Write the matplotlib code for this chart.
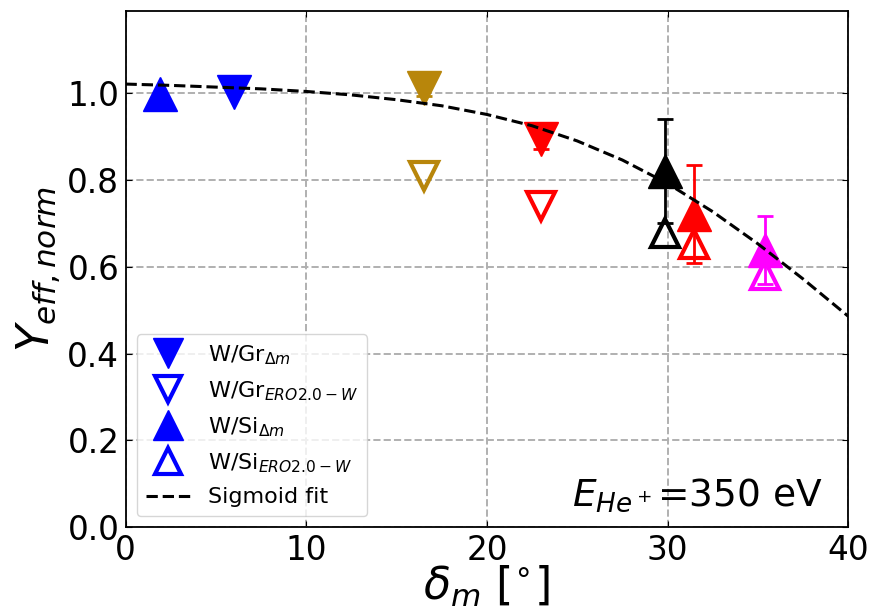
import numpy as np
import matplotlib
matplotlib.use('Agg')
import matplotlib.pyplot as plt
from matplotlib.lines import Line2D

# measured points (delta_m in deg, normalised effective yield)
gr_x = [6.0, 16.5, 23.0]
gr_dm = [1.003, 1.013, 0.894]
gr_dm_err = [0.0, 0.02, 0.023]
gr_ero = [None, 0.809, 0.741]
gr_col = ['blue', 'darkgoldenrod', 'red']

si_x = [1.9, 29.85, 31.45, 35.4]
si_dm = [0.997, 0.821, 0.722, 0.639]
si_dm_err = [0.0, 0.12, 0.113, 0.078]
si_ero = [None, 0.677, 0.653, 0.581]
si_col = ['blue', 'black', 'red', 'magenta']

# sigmoid fit curve
fit_x = [0, 2.5, 5, 7.5, 10, 12.5, 15, 17.5, 20, 22.5, 25, 27.5, 30, 32.5, 35, 37.5, 40]
fit_y = [1.021, 1.018, 1.014, 1.010, 1.004, 0.996, 0.985, 0.971, 0.951, 0.925,
         0.890, 0.846, 0.792, 0.727, 0.653, 0.572, 0.486]

fig = plt.figure(figsize=(8.71, 6.12), dpi=100)
ax = fig.add_axes([0.1441, 0.1384, 0.8298, 0.8441])

ms_f = 24   # filled markers
ms_o = 20   # open markers

for x, y, e, c in zip(gr_x, gr_dm, gr_dm_err, gr_col):
    ax.errorbar(x, y, yerr=e, fmt='v', color=c, ms=ms_f, capsize=6, elinewidth=2,
                capthick=2, zorder=4)
for x, y, c in zip(gr_x, gr_ero, gr_col):
    if y is not None:
        ax.plot(x, y, 'v', ms=ms_o, mfc='none', mec=c, mew=3, zorder=3)

for x, y, c in zip(si_x, si_ero, si_col):
    if y is not None:
        ax.plot(x, y, '^', ms=ms_o, mfc='none', mec=c, mew=3, zorder=3)
for x, y, e, c in zip(si_x, si_dm, si_dm_err, si_col):
    ax.errorbar(x, y, yerr=e, fmt='^', color=c, ms=ms_f, capsize=6, elinewidth=2,
                capthick=2, zorder=4)

ax.plot(fit_x, fit_y, 'k--', lw=2.2, zorder=5)

ax.set_xlim(0, 40)
ax.set_ylim(0, 1.19)
ax.set_xticks([0, 10, 20, 30, 40])
ax.set_yticks([0.0, 0.2, 0.4, 0.6, 0.8, 1.0])
ax.grid(True, ls='--', color='#b0b0b0', lw=1.4)
ax.tick_params(direction='in', top=True, right=True, labelsize=23.5, length=4, pad=4.5)
for s in ax.spines.values():
    s.set_linewidth(1.3)

ax.set_xlabel(r'$\delta_m$ [$^{\circ}$]', fontsize=32, labelpad=-2)
ax.set_ylabel(r'$Y_{eff,norm}$', fontsize=32, labelpad=3)

ax.text(0.965, 0.041, r'$E_{He^+}$=350 eV', transform=ax.transAxes, ha='right',
        va='baseline', fontsize=27)

handles = [
    Line2D([], [], ls='none', marker='v', ms=22, color='blue'),
    Line2D([], [], ls='none', marker='v', ms=19, mfc='none', mec='blue', mew=3),
    Line2D([], [], ls='none', marker='^', ms=22, color='blue'),
    Line2D([], [], ls='none', marker='^', ms=19, mfc='none', mec='blue', mew=3),
    Line2D([], [], ls='--', color='k', lw=2.2),
]
labels = [r'W/Gr$_{\Delta m}$', r'W/Gr$_{ERO2.0-W}$', r'W/Si$_{\Delta m}$',
          r'W/Si$_{ERO2.0-W}$', 'Sigmoid fit']
ax.legend(handles, labels, loc='lower left', fontsize=16, labelspacing=0.56)

fig.savefig('out.png', dpi=100)
